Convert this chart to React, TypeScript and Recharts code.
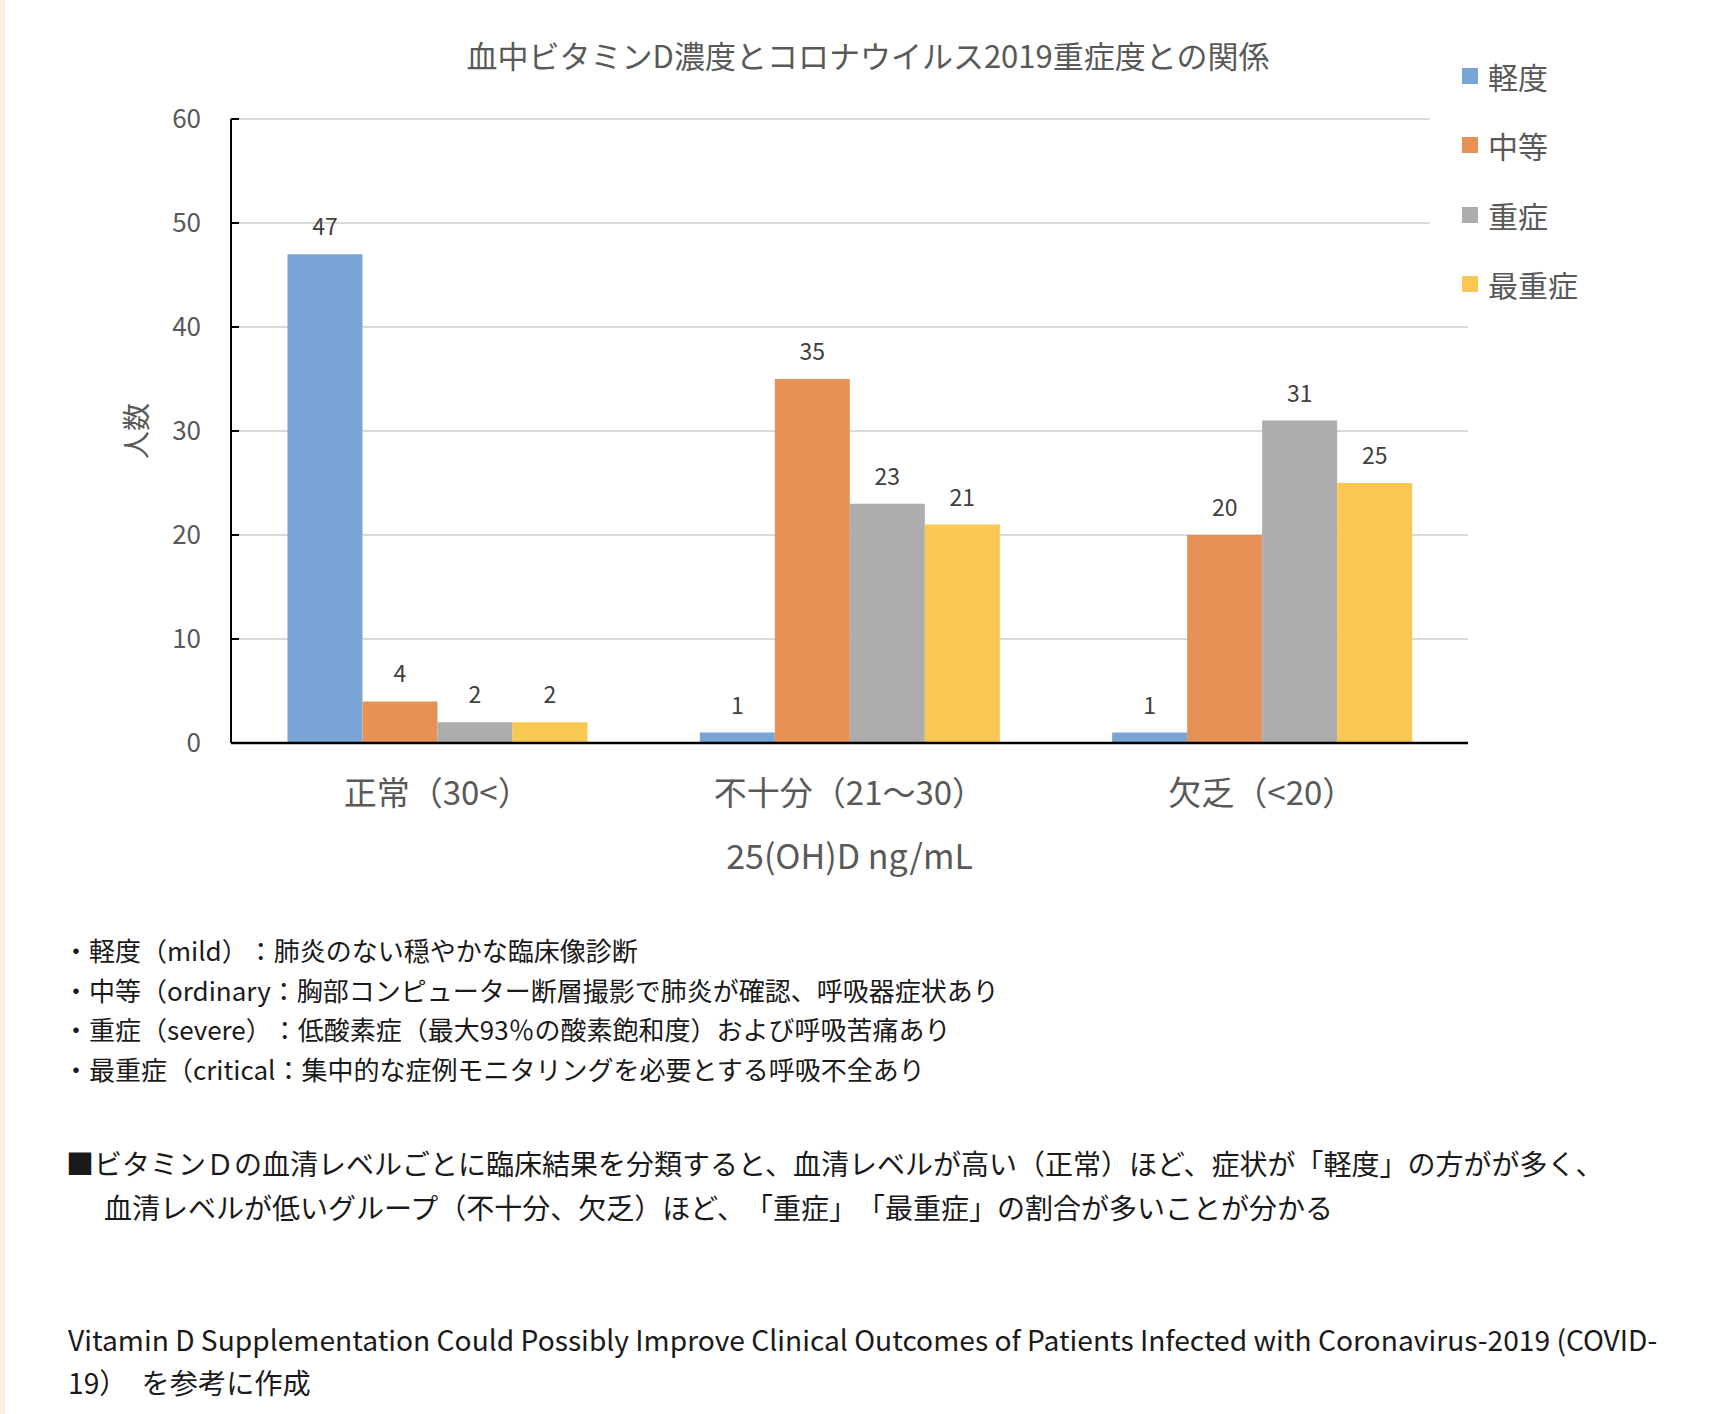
import { Bar, BarChart, CartesianGrid, Label, LabelList, XAxis, YAxis } from "recharts";

const categories = ["正常（30<）", "不十分（21～30）", "欠乏（<20）"];
const seriesNames = ["軽度", "中等", "重症", "最重症"];
const mildCounts = [47, 1, 1];
const ordinaryCounts = [4, 35, 20];
const severeCounts = [2, 23, 31];
const criticalCounts = [2, 21, 25];
const yTicks = [0, 10, 20, 30, 40, 50, 60];

const chartTitle = "血中ビタミンD濃度とコロナウイルス2019重症度との関係";
const yAxisTitle = "人数";
const xAxisTitle = "25(OH)D ng/mL";

const definitionLines = [
  "・軽度（mild）：肺炎のない穏やかな臨床像診断",
  "・中等（ordinary：胸部コンピューター断層撮影で肺炎が確認、呼吸器症状あり",
  "・重症（severe）：低酸素症（最大93％の酸素飽和度）および呼吸苦痛あり",
  "・最重症（critical：集中的な症例モニタリングを必要とする呼吸不全あり",
];
const summaryLines = [
  "■ビタミンＤの血清レベルごとに臨床結果を分類すると、血清レベルが高い（正常）ほど、症状が「軽度」の方がが多く、",
  "血清レベルが低いグループ（不十分、欠乏）ほど、「重症」「最重症」の割合が多いことが分かる",
];
const sourceLines = [
  "Vitamin D Supplementation Could Possibly Improve Clinical Outcomes of Patients Infected with Coronavirus-2019 (COVID-",
  "19）　を参考に作成",
];

const seriesValues = [mildCounts, ordinaryCounts, severeCounts, criticalCounts];
const seriesKeys = ["mild", "ordinary", "severe", "critical"];
const COLORS = ["#78a4d6", "#e69256", "#adadad", "#f8c853"];

const FONT = '"Noto Sans CJK JP", "Noto Sans", sans-serif';
const GRAY = "#595959";

const chartData = categories.map((name, i) => {
  const row: Record<string, string | number> = { name };
  seriesKeys.forEach((key, s) => {
    row[key] = seriesValues[s][i];
  });
  return row;
});

const textBase: any = {
  position: "absolute",
  whiteSpace: "nowrap",
  color: "#1a1a1a",
  textSpacingTrim: "space-all",
};

function YTitle(props: any) {
  const vb = props.viewBox || {};
  const x = vb.x - 36;
  const y = vb.y + vb.height / 2;
  return (
    <text
      x={x}
      y={y}
      transform={`rotate(-90 ${x} ${y})`}
      textAnchor="middle"
      dominantBaseline="central"
      fill={GRAY}
      fontSize={28}
      fontFamily={FONT}
    >
      {yAxisTitle}
    </text>
  );
}

export default function App() {
  return (
    <div
      style={{
        position: "absolute",
        left: 0,
        top: 0,
        width: 1724,
        height: 1414,
        background: "#ffffff",
        fontFamily: FONT,
        overflow: "hidden",
      }}
    >
      <div
        style={{
          position: "absolute",
          left: 0,
          top: 0,
          width: 5,
          height: 1414,
          background: "#f7efdf",
        }}
      />

      <BarChart
        width={1724}
        height={900}
        data={chartData}
        margin={{ top: 119, right: 256, bottom: 97, left: 171 }}
        barCategoryGap="13.7%"
        barGap={0}
        style={{ position: "absolute", left: 0, top: 0 }}
      >
        <CartesianGrid vertical={false} stroke="#d9d9d9" strokeWidth={2} />
        <XAxis
          dataKey="name"
          interval={0}
          height={60}
          tickLine={false}
          tickSize={0}
          tickMargin={39}
          axisLine={{ stroke: "#000000", strokeWidth: 2.5 }}
          tick={{ fill: GRAY, fontSize: 33, fontFamily: FONT }}
        >
          <Label
            value={xAxisTitle}
            position="bottom"
            offset={42}
            fill={GRAY}
            fontSize={34}
            fontFamily={FONT}
          />
        </XAxis>
        <YAxis
          domain={[0, 60]}
          ticks={yTicks}
          width={60}
          tickSize={-8}
          tickMargin={38}
          axisLine={{ stroke: "#000000", strokeWidth: 2 }}
          tickLine={{ stroke: "#000000", strokeWidth: 2 }}
          tick={{ fill: GRAY, fontSize: 26, fontFamily: FONT }}
        >
          <Label content={<YTitle />} />
        </YAxis>
        {seriesKeys.map((key, s) => (
          <Bar
            key={key}
            dataKey={key}
            name={seriesNames[s]}
            fill={COLORS[s]}
            isAnimationActive={false}
          >
            <LabelList
              dataKey={key}
              position="top"
              offset={19}
              fill="#404040"
              fontSize={23}
              fontFamily={FONT}
            />
          </Bar>
        ))}
      </BarChart>

      <div
        style={{
          position: "absolute",
          left: 368,
          width: 1000,
          top: 30,
          textAlign: "center",
          fontSize: 31,
          lineHeight: "50px",
          color: GRAY,
          whiteSpace: "nowrap",
        }}
      >
        {chartTitle}
      </div>

      <div
        style={{
          position: "absolute",
          left: 1430,
          top: 40,
          width: 294,
          height: 270,
          background: "#ffffff",
        }}
      >
        {seriesNames.map((name, s) => (
          <div
            key={name}
            style={{
              position: "absolute",
              left: 32,
              top: 16 + s * 69.3,
              height: 40,
              display: "flex",
              alignItems: "center",
              fontSize: 30,
              color: GRAY,
              whiteSpace: "nowrap",
            }}
          >
            <span
              style={{
                display: "inline-block",
                width: 16,
                height: 16,
                background: COLORS[s],
                marginRight: 10,
              }}
            />
            {name}
          </div>
        ))}
      </div>

      {definitionLines.map((line, i) => (
        <div
          key={line}
          style={{
            ...textBase,
            left: 63,
            top: 930 + i * 39.6,
            fontSize: 26,
            lineHeight: "40px",
          }}
        >
          {line}
        </div>
      ))}

      {summaryLines.map((line, i) => (
        <div
          key={line}
          style={{
            ...textBase,
            left: i === 0 ? 66 : 104,
            top: 1141 + i * 44,
            fontSize: 28,
            lineHeight: "44px",
          }}
        >
          {line}
        </div>
      ))}

      {sourceLines.map((line, i) => (
        <div
          key={line}
          style={{
            ...textBase,
            textSpacingTrim: "normal",
            left: 68,
            top: 1317 + i * 43,
            fontSize: 28.2,
            lineHeight: "44px",
          }}
        >
          {line}
        </div>
      ))}
    </div>
  );
}
